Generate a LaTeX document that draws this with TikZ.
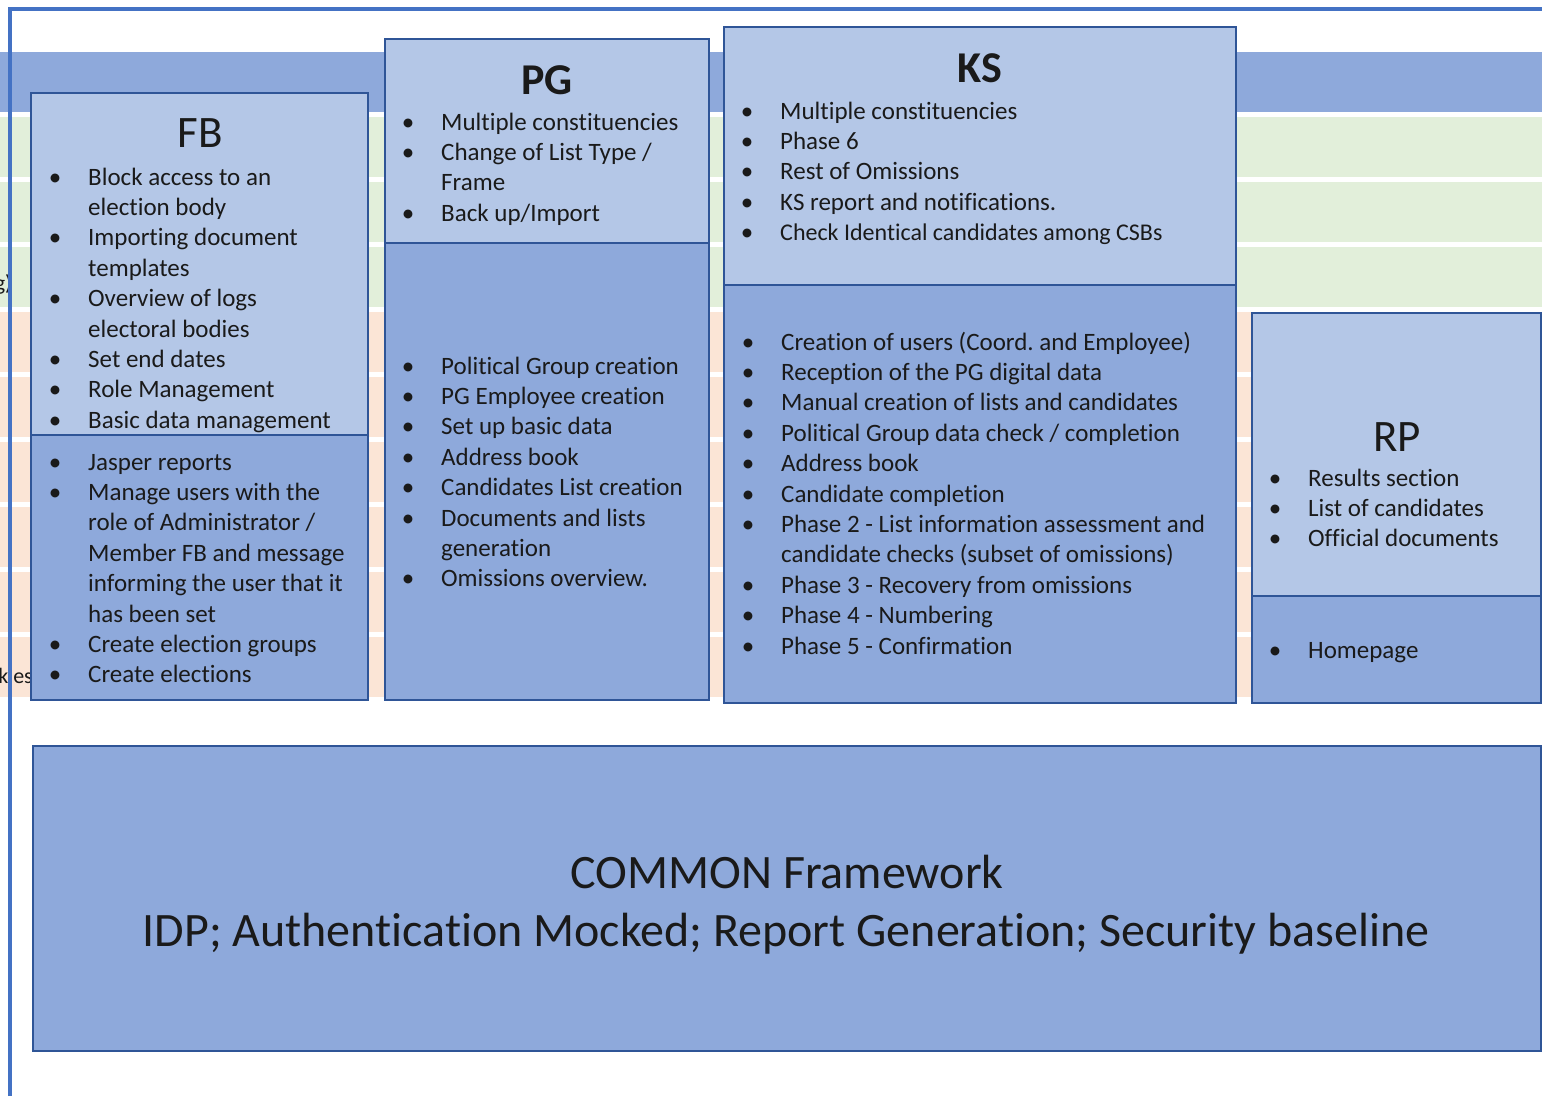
\documentclass[tikz,border=0pt]{standalone}
\usepackage{fontspec}
\setmainfont{Carlito}[Ligatures={NoCommon}]
\usepackage{array}
\frenchspacing
\definecolor{frameblue}{HTML}{4472C4}
\definecolor{edge}{HTML}{2F5597}
\definecolor{lightfill}{HTML}{B4C7E7}
\definecolor{darkfill}{HTML}{8EA9DB}
\definecolor{bandblue}{HTML}{8EA9DB}
\definecolor{bandgreen}{HTML}{E2EFDA}
\definecolor{bandpeach}{HTML}{FBE5D6}
\definecolor{txt}{HTML}{1A1A1A}
\newcommand{\bul}{\llap{\makebox[0pt]{\textbullet}\hspace{33pt}}}
\begin{document}
\begin{tikzpicture}[x=1pt,y=-1pt,
  lst/.style={anchor=base west, inner sep=0pt, font=\fontsize{25}{30.4}\selectfont, text=txt},
  ttl/.style={anchor=base, inner sep=0pt, font=\fontsize{45}{54}\selectfont, text=txt},
  boxedge/.style={draw=edge, line width=2.2pt},
  frag/.style={anchor=base east, inner sep=0pt, font=\fontsize{22}{26}\selectfont, text=txt}]
\useasboundingbox (0,0) rectangle (1542,1096);
\fill[white] (0,0) rectangle (1542,1096);
% background bands
\fill[bandblue] (0,52) rectangle (1542,112);
\foreach \y in {117,182,247} {\fill[bandgreen] (0,\y) rectangle (1542,\y+60);}
\foreach \y in {312,377,442,507,572,637} {\fill[bandpeach] (0,\y) rectangle (1542,\y+60);}
% text fragments behind boxes
\node[frag] (fragA) at (12,290) {g)};
\node[frag] (fragB) at (33,683) {k es};
% outer frame
\draw[frameblue, line width=3.2pt] (10,1096) -- (10,9) -- (1542,9);
% FB box
\fill[lightfill] (31,93) rectangle (368,435);
\fill[darkfill] (31,435) rectangle (368,700);
\draw[boxedge] (31,435) -- (368,435);
\draw[boxedge] (31,93) rectangle (368,700);
% PG box
\fill[lightfill] (385,39) rectangle (709,243);
\fill[darkfill] (385,243) rectangle (709,700);
\draw[boxedge] (385,243) -- (709,243);
\draw[boxedge] (385,39) rectangle (709,700);
% KS box
\fill[lightfill] (724,27) rectangle (1236,285);
\fill[darkfill] (724,285) rectangle (1236,703);
\draw[boxedge] (724,285) -- (1236,285);
\draw[boxedge] (724,27) rectangle (1236,703);
% RP box
\fill[lightfill] (1252,313) rectangle (1541,596);
\fill[darkfill] (1252,596) rectangle (1541,703);
\draw[boxedge] (1252,596) -- (1541,596);
\draw[boxedge] (1252,313) rectangle (1541,703);
% COMMON box
\fill[darkfill] (33,746) rectangle (1541,1051);
\draw[boxedge] (33,746) rectangle (1541,1051);
% titles
\node[ttl] (fbT) at (200,147) {FB};
\node[ttl, font=\fontsize{44}{52}\selectfont\bfseries] (pgT) at (547,94) {PG};
\node[ttl, font=\fontsize{44}{52}\selectfont\bfseries] (ksT) at (980,82) {KS};
\node[ttl] (rpT) at (1397,451) {RP};
% FB lists
\node[lst] (fbA) at (88,185) {\begin{tabular}[t]{@{}l@{}}
\bul Block access to an\\ election body\\
\bul Importing document\\ templates\\
\bul Overview of logs\\ electoral bodies\\
\bul Set end dates\\
\bul Role Management\\
\bul Basic data management
\end{tabular}};
\node[lst] (fbB) at (88,470) {\begin{tabular}[t]{@{}l@{}}
\bul Jasper reports\\
\bul Manage users with the\\ role of Administrator /\\ Member FB and message\\ informing the user that it\\ has been set\\
\bul Create election groups\\
\bul Create elections
\end{tabular}};
% PG lists
\node[lst] (pgA) at (441,130) {\begin{tabular}[t]{@{}l@{}}
\bul Multiple constituencies\\
\bul Change of List Type /\\ Frame\\
\bul Back up/Import
\end{tabular}};
\node[lst] (pgB) at (441,374) {\begin{tabular}[t]{@{}l@{}}
\bul Political Group creation\\
\bul PG Employee creation\\
\bul Set up basic data\\
\bul Address book\\
\bul Candidates List creation\\
\bul Documents and lists\\ generation\\
\bul Omissions overview.
\end{tabular}};
% KS lists
\node[lst] (ksA) at (780,119) {\begin{tabular}[t]{@{}l@{}}
\bul Multiple constituencies\\
\bul Phase 6\\
\bul Rest of Omissions\\
\bul KS report and notifications.\\
\bul {\fontsize{24}{30.4}\selectfont Check Identical candidates among CSBs}
\end{tabular}};
\node[lst] (ksB) at (781,350) {\begin{tabular}[t]{@{}l@{}}
\bul Creation of users (Coord. and Employee)\\
\bul Reception of the PG digital data\\
\bul Manual creation of lists and candidates\\
\bul Political Group data check / completion\\
\bul Address book\\
\bul Candidate completion\\
\bul Phase 2 - List information assessment and\\ candidate checks (subset of omissions)\\
\bul Phase 3 - Recovery from omissions\\
\bul Phase 4 - Numbering\\
\bul Phase 5 - Confirmation
\end{tabular}};
% RP lists
\node[lst] (rpA) at (1308,486) {\begin{tabular}[t]{@{}l@{}}
\bul Results section\\
\bul List of candidates\\
\bul Official documents
\end{tabular}};
\node[lst] (rpB) at (1308,658) {\begin{tabular}[t]{@{}l@{}}
\bul Homepage
\end{tabular}};
% COMMON text
\node[ttl, font=\fontsize{48}{58}\selectfont] (cmA) at (787,888) {COMMON Framework};
\node[ttl, font=\fontsize{48}{58}\selectfont] (cmB) at (786,946) {IDP; Authentication Mocked; Report Generation; Security baseline};
\end{tikzpicture}
\end{document}
